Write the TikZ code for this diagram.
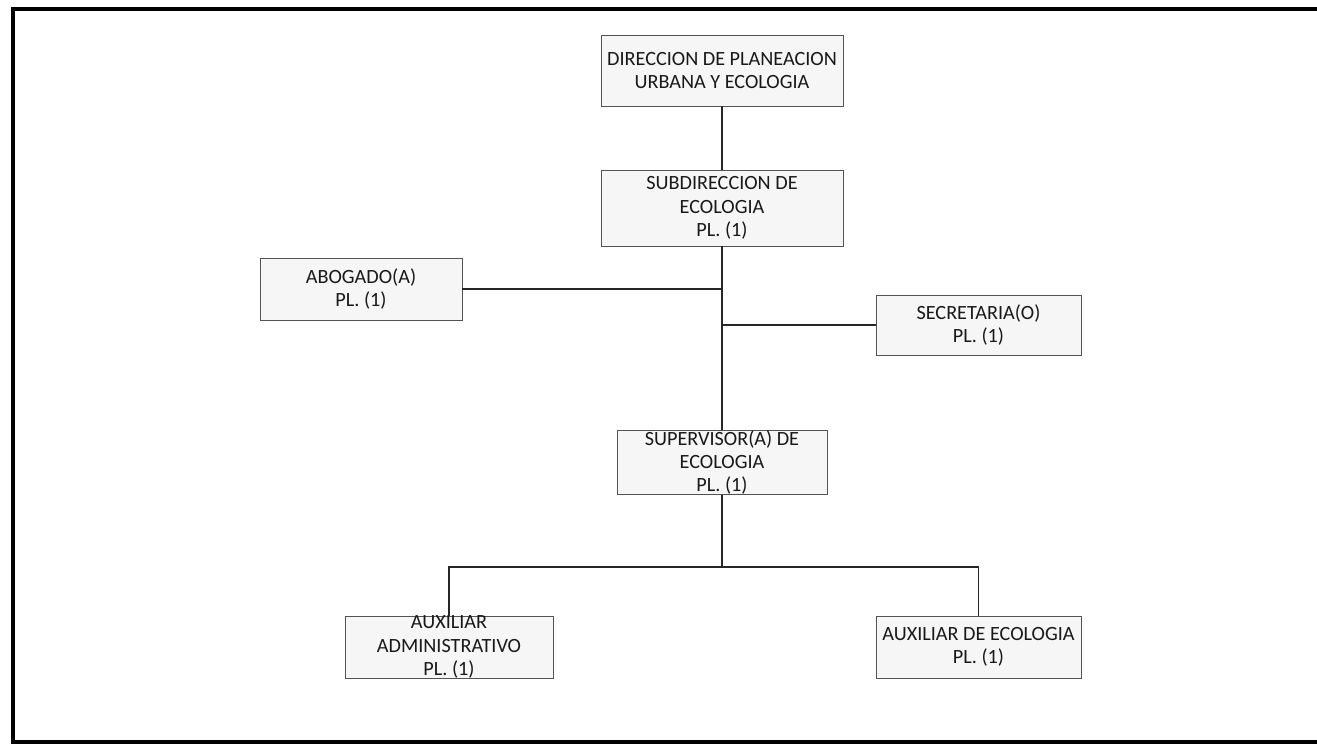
\documentclass[tikz,border=0pt]{standalone}
\usepackage{fontspec}
\setmainfont{Carlito}
\usetikzlibrary{positioning}

\tikzset{
    puesto/.style={draw=gray!65!black,fill=gray!7,thin,align=center,inner sep=0pt,
        font=\fontsize{11.5}{13.2}\selectfont,text=black!90},
    linea/.style={line width=1.1pt,black!85},
}

\begin{document}
\begin{tikzpicture}[x=0.02cm,y=-0.02cm]
\useasboundingbox (0,0) rectangle (1317,746);
% marco
\draw[line width=1.8pt] (1317,9) -- (13,9) -- (13,742) -- (1317,742);

% puestos
\node[puesto,minimum width=242*0.02cm,minimum height=71*0.02cm] (dir) at (722,70.5)
    {DIRECCION DE PLANEACION\\URBANA Y ECOLOGIA};
\node[puesto,minimum width=242*0.02cm,minimum height=76*0.02cm] (sub) at (722,208)
    {SUBDIRECCION DE\\ECOLOGIA\\PL. (1)};
\node[puesto,minimum width=202*0.02cm,minimum height=62*0.02cm] (abo) at (361,289)
    {ABOGADO(A)\\PL. (1)};
\node[puesto,minimum width=205*0.02cm,minimum height=60*0.02cm] (sec) at (978.5,325)
    {SECRETARIA(O)\\PL. (1)};
\node[puesto,minimum width=210*0.02cm,minimum height=59*0.02cm] (sup) at (722,462.5)
    {SUPERVISOR(A) DE\\ECOLOGIA\\PL. (1)};
\node[puesto,minimum width=208*0.02cm,minimum height=62*0.02cm] (aux1) at (449,647)
    {AUXILIAR\\ADMINISTRATIVO\\PL. (1)};
\node[puesto,minimum width=205*0.02cm,minimum height=62*0.02cm] (aux2) at (978.5,647)
    {AUXILIAR DE ECOLOGIA\\PL. (1)};

% lineas
\coordinate (bus) at (722,567);
\draw[linea] (dir.south) -- (sub.north);
\draw[linea] (sub.south) -- (sup.north);
\draw[linea] (abo.east) -- (abo.east -| sub.south);
\draw[linea] (sec.west) -- (sec.west -| sub.south);
\draw[linea] (sup.south) -- (bus);
\draw[linea] (aux1.north) |- (bus) -| (aux2.north);
\end{tikzpicture}
\end{document}
